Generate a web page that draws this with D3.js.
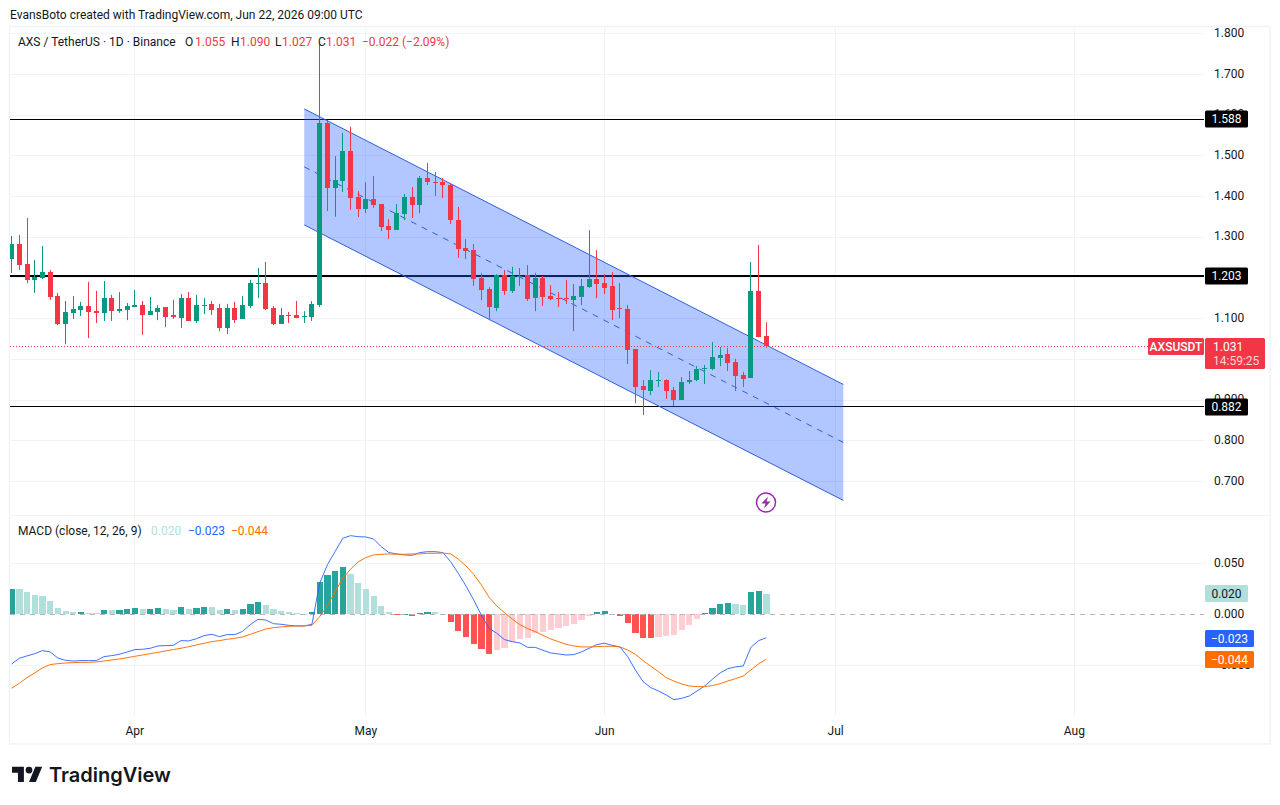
<!DOCTYPE html>
<html>
<head>
<meta charset="utf-8">
<title>AXS / TetherUS 1D</title>
<script src="https://cdn.jsdelivr.net/npm/d3@7"></script>
<style>
  html, body { margin: 0; padding: 0; background: #fff; }
  svg { display: block; }
  text { font-family: Roboto, sans-serif; font-size: 12px; fill: #131722; }
</style>
</head>
<body>
<svg id="chart" width="1280" height="805"></svg>
<script>
// Daily candles, AXS/USDT, one entry per session starting at the first date.
const firstDay = "2026-03-16";
const opens = [1.245,1.282,1.233,1.194,1.199,1.213,1.154,1.086,1.113,1.120,1.130,1.117,1.113,1.149,1.117,1.120,1.127,1.132,1.108,1.115,1.127,1.108,1.100,1.149,1.093,1.130,1.135,1.125,1.076,1.125,1.098,1.130,1.184,1.186,1.125,1.086,1.108,1.108,1.103,1.103,
  1.132,1.579,1.4205,1.437,1.511,1.398,1.368,1.393,1.380,1.326,1.316,1.356,1.398,1.378,1.444,1.434,1.434,1.427,1.341,1.272,
  1.267,1.198,1.171,1.125,1.206,1.167,1.201,1.206,1.149,1.198,1.154,1.149,1.149,1.144,1.152,1.176,1.196,1.186,1.179,1.125,1.122,1.024,0.933,0.921,0.946,0.948,0.923,0.899,0.943,0.948,0.975,0.975,1.002,1.012,0.992,0.960,0.953,1.167,1.055];
const highs = [1.302,1.304,1.346,1.243,1.277,1.218,1.162,1.142,1.154,1.140,1.189,1.167,1.191,1.157,1.164,1.137,1.169,1.142,1.152,1.132,1.127,1.145,1.159,1.164,1.157,1.149,1.142,1.135,1.135,1.140,1.154,1.194,1.223,1.238,1.130,1.125,1.115,1.142,1.117,1.142,
  1.773,1.587,1.498,1.555,1.570,1.412,1.434,1.449,1.380,1.343,1.380,1.405,1.422,1.449,1.481,1.459,1.444,1.432,1.373,1.294,
  1.282,1.211,1.176,1.208,1.218,1.226,1.223,1.230,1.211,1.203,1.181,1.164,1.194,1.184,1.196,1.316,1.267,1.208,1.213,1.186,1.132,1.024,0.948,0.972,0.968,0.950,0.931,0.955,0.970,0.982,0.985,1.041,1.029,1.027,1.000,0.968,1.238,1.280,1.090];
const lows = [1.211,1.218,1.186,1.162,1.196,1.145,1.083,1.036,1.098,1.105,1.051,1.088,1.093,1.093,1.113,1.095,1.127,1.059,1.108,1.095,1.078,1.098,1.076,1.093,1.088,1.110,1.108,1.068,1.061,1.088,1.098,1.125,1.149,1.120,1.083,1.086,1.088,1.100,1.088,1.093,
  1.127,1.363,1.349,1.410,1.366,1.348,1.358,1.371,1.314,1.294,1.316,1.341,1.346,1.358,1.427,1.400,1.395,1.331,1.248,1.245,
  1.179,1.144,1.095,1.117,1.157,1.162,1.179,1.142,1.117,1.130,1.144,1.127,1.135,1.068,1.132,1.174,1.149,1.159,1.095,1.100,0.987,0.891,0.862,0.911,0.931,0.901,0.884,0.899,0.938,0.945,0.938,0.972,0.982,0.970,0.921,0.931,0.953,1.053,1.027];
const closes = [1.282,1.230,1.194,1.201,1.213,1.152,1.086,1.115,1.122,1.130,1.115,1.113,1.149,1.117,1.122,1.130,1.132,1.108,1.117,1.125,1.103,1.103,1.149,1.093,1.132,1.132,1.120,1.076,1.125,1.095,1.132,1.186,1.186,1.122,1.086,1.108,1.105,1.100,1.105,1.135,
  1.579,1.4205,1.439,1.511,1.395,1.368,1.393,1.378,1.324,1.316,1.358,1.398,1.378,1.444,1.434,1.432,1.427,1.341,1.270,1.265,
  1.196,1.169,1.127,1.206,1.167,1.203,1.203,1.147,1.198,1.152,1.147,1.147,1.147,1.154,1.179,1.196,1.184,1.174,1.120,1.122,1.022,0.931,0.923,0.948,0.948,0.921,0.899,0.943,0.948,0.975,0.977,1.004,1.009,0.990,0.958,0.950,1.167,1.053,1.031];

// MACD (12, 26, 9) readings for the same sessions.
const macdHist = [0.0248,0.0247,0.0219,0.0190,0.0180,0.0131,0.0062,0.0033,0.0023,0.0024,0.0013,0.0012,0.0043,0.0042,0.0043,0.0052,0.0062,0.0052,0.0053,0.0062,0.0052,0.0042,0.0072,0.0052,0.0062,0.0072,0.0071,0.0042,0.0052,0.0042,0.0052,0.0101,0.0121,0.0092,0.0052,0.0033,0.0023,0.0013,0.0003,0.0023,
  0.0317,0.0386,0.0425,0.0464,0.0395,0.0307,0.0248,0.0180,0.0082,0.0023,-0.0007,0.0003,-0.0016,0.0013,0.0023,0.0022,0.0003,-0.0075,-0.0163,-0.0222,
  -0.0291,-0.0340,-0.0389,-0.0350,-0.0330,-0.0271,-0.0242,-0.0232,-0.0183,-0.0173,-0.0154,-0.0134,-0.0114,-0.0095,-0.0056,-0.0016,0.0023,0.0033,0.0003,-0.0016,-0.0085,-0.0183,-0.0232,-0.0233,-0.0222,-0.0212,-0.0203,-0.0154,-0.0105,-0.0046,0.0013,0.0062,0.0101,0.0111,0.0101,0.0092,0.0219,0.0229,0.020];
const macdLine = [-0.0487,-0.0431,-0.0408,-0.0386,-0.0356,-0.0369,-0.0428,-0.0451,-0.0458,-0.0454,-0.0454,-0.0454,-0.0415,-0.0405,-0.0392,-0.0369,-0.0346,-0.0343,-0.0333,-0.0310,-0.0307,-0.0304,-0.0258,-0.0261,-0.0239,-0.0209,-0.0196,-0.0219,-0.0199,-0.0199,-0.0167,-0.0101,-0.0049,-0.0056,-0.0092,-0.0098,-0.0108,-0.0114,-0.0114,-0.0098,
  0.0304,0.0484,0.0614,0.0745,0.0771,0.0761,0.0758,0.0739,0.0663,0.0605,0.0592,
  0.0582,0.0578,0.0605,0.0614,0.0614,0.0605,0.0516,0.0402,0.0278,0.0141,-0.0007,-0.0137,-0.0186,-0.0248,-0.0268,-0.0281,-0.0324,-0.0324,-0.0353,-0.0379,-0.0389,-0.0399,-0.0395,-0.0369,-0.0333,-0.0297,-0.0284,-0.0304,-0.0320,-0.0415,-0.0546,-0.0660,-0.0719,-0.0752,-0.0791,-0.0837,-0.0824,-0.0801,-0.0752,-0.0703,-0.0637,-0.0575,-0.0533,-0.0516,-0.0507,-0.0324,-0.0258,-0.023];
const signalLine = [-0.0725,-0.0676,-0.0621,-0.0575,-0.0526,-0.0493,-0.0484,-0.0477,-0.0474,-0.0471,-0.0471,-0.0467,-0.0458,-0.0448,-0.0438,-0.0425,-0.0412,-0.0399,-0.0386,-0.0373,-0.0359,-0.0346,-0.0333,-0.0317,-0.0301,-0.0284,-0.0268,-0.0258,-0.0245,-0.0235,-0.0222,-0.0196,-0.0170,-0.0144,-0.0131,-0.0124,-0.0118,-0.0114,-0.0114,-0.0108,
  -0.0023,0.0082,0.0222,0.0353,0.0441,0.0513,0.0556,0.0582,0.0588,0.0592,0.0588,
  0.0588,0.0592,0.0592,0.0598,0.0598,0.0601,0.0592,0.0542,0.0474,0.0392,0.0288,0.0167,0.0082,0.0016,-0.0046,-0.0101,-0.0141,-0.0170,-0.0206,-0.0242,-0.0268,-0.0294,-0.0310,-0.0320,-0.0320,-0.0317,-0.0314,-0.0314,-0.0320,-0.0350,-0.0392,-0.0454,-0.0510,-0.0562,-0.0621,-0.0654,-0.0683,-0.0703,-0.0709,-0.0709,-0.0699,-0.0680,-0.0654,-0.0631,-0.0605,-0.0546,-0.0484,-0.044];

// Drawn levels and the parallel channel.
const levels = [1.588, 1.203, 0.882];
const levelWeights = [1, 2, 1];
const lastPrice = 1.031;
const channelDates = ["2026-04-23", "2026-07-02"];
const channelUpper = [1.614, 0.937];
const channelLower = [1.329, 0.652];

// Axis marks. 1.000 and 1.200 keep their grid lines, their labels sit under badges.
const priceGrid = [0.7,0.8,0.9,1.0,1.1,1.2,1.3,1.4,1.5,1.6,1.7,1.8];
const priceTicks = [0.7,0.8,0.9,1.1,1.3,1.4,1.5,1.6,1.7,1.8];
const macdTicks = [-0.05, 0, 0.05];
const monthTicks = ["2026-04-01","2026-05-01","2026-06-01","2026-07-01","2026-08-01"];

const GREEN = "#089981", RED = "#f23645", GRID = "#f0f3fa", INK = "#131722";
const left = 10, right = 1204, outerRight = 1270;
const mainTop = 27, mainBottom = 515, macdBottom = 716, outerBottom = 744;

const parse = d3.utcParse("%Y-%m-%d");
const days = opens.map((_, i) => d3.utcDay.offset(parse(firstDay), i));

const x = d3.scaleUtc().domain([days[0], days[days.length - 1]]).range([11.6, 766.3]);
const y = d3.scaleLinear().domain([0, 1]).range([358.8 + 407, 358.8]);
const yM = d3.scaleLinear().domain([-0.05, 0.05]).range([665.3, 563.3]);

const svg = d3.select("#chart");
const defs = svg.append("defs");
defs.append("clipPath").attr("id", "mainClip").append("rect")
  .attr("x", left).attr("y", mainTop).attr("width", right - left).attr("height", mainBottom - mainTop);
defs.append("clipPath").attr("id", "macdClip").append("rect")
  .attr("x", left).attr("y", mainBottom + 1).attr("width", right - left).attr("height", macdBottom - mainBottom - 1);

// Frame around panes and axes.
const frame = svg.append("g").attr("stroke", GRID).attr("fill", "none");
frame.append("rect").attr("x", 9.5).attr("y", 26.5).attr("width", outerRight - 9.5).attr("height", outerBottom - 26.5).attr("stroke-width", 1.5);
frame.append("line").attr("x1", left).attr("x2", outerRight).attr("y1", mainBottom + .5).attr("y2", mainBottom + .5);

// Grid lines.
const grid = svg.append("g").attr("stroke", GRID).attr("stroke-width", 1);
grid.selectAll("line.v").data(monthTicks).join("line").attr("class", "v")
  .attr("x1", d => Math.floor(x(parse(d))) + .5).attr("x2", d => Math.floor(x(parse(d))) + .5)
  .attr("y1", mainTop).attr("y2", macdBottom);
grid.selectAll("line.h").data(priceGrid).join("line").attr("class", "h")
  .attr("x1", left).attr("x2", right)
  .attr("y1", d => Math.round(y(d)) + .5).attr("y2", d => Math.round(y(d)) + .5);
grid.selectAll("line.m").data(macdTicks.filter(d => d !== 0)).join("line").attr("class", "m")
  .attr("x1", left).attr("x2", right)
  .attr("y1", d => Math.round(yM(d)) + .5).attr("y2", d => Math.round(yM(d)) + .5);

// Main pane: levels first, so the translucent channel tints them.
const main = svg.append("g").attr("clip-path", "url(#mainClip)");
const levelY = (d, i) => levelWeights[i] % 2 ? Math.floor(y(d)) + .5 : Math.round(y(d));
main.selectAll("line.level").data(levels).join("line").attr("class", "level")
  .attr("x1", left).attr("x2", right)
  .attr("y1", levelY).attr("y2", levelY)
  .attr("stroke", "#000").attr("stroke-width", (d, i) => levelWeights[i]);

const chDates = channelDates.map(parse);
const chPoly = [
  [x(chDates[0]), y(channelUpper[0])], [x(chDates[1]), y(channelUpper[1])],
  [x(chDates[1]), y(channelLower[1])], [x(chDates[0]), y(channelLower[0])]
];
main.append("polygon").attr("points", chPoly.map(p => p.join(",")).join(" "))
  .attr("fill", "#2962ff").attr("fill-opacity", 0.36);
const chLine = (a, b) => main.append("line")
  .attr("x1", x(chDates[0])).attr("x2", x(chDates[1])).attr("y1", y(a)).attr("y2", y(b))
  .attr("stroke", "#2f5fe0").attr("stroke-width", 1);
chLine(channelUpper[0], channelUpper[1]);
chLine(channelLower[0], channelLower[1]);
chLine((channelUpper[0] + channelLower[0]) / 2, (channelUpper[1] + channelLower[1]) / 2)
  .attr("stroke-dasharray", "6 6");

// Last-price marker.
main.append("line").attr("x1", left).attr("x2", 1148)
  .attr("y1", Math.floor(y(lastPrice)) + .5).attr("y2", Math.floor(y(lastPrice)) + .5)
  .attr("stroke", RED).attr("stroke-dasharray", "1 2");

// Candles.
const candles = main.append("g").selectAll("g").data(days).join("g")
  .attr("fill", (d, i) => closes[i] >= opens[i] ? GREEN : RED);
candles.append("rect")
  .attr("x", d => Math.floor(x(d)))
  .attr("width", 1)
  .attr("y", (d, i) => y(highs[i]))
  .attr("height", (d, i) => y(lows[i]) - y(highs[i]));
candles.append("rect")
  .attr("x", d => Math.floor(x(d)) - 2)
  .attr("width", 5)
  .attr("y", (d, i) => Math.round(y(Math.max(opens[i], closes[i]))))
  .attr("height", (d, i) => Math.max(1, Math.round(Math.abs(y(opens[i]) - y(closes[i])))));

// Lightning mark below the channel.
const spark = svg.append("g").attr("transform", "translate(766,502.5)");
spark.append("circle").attr("r", 9.5).attr("fill", "#fff").attr("stroke", "#9c27b0").attr("stroke-width", 1.5);
spark.append("path").attr("d", "M2 -6 L-4.5 1 L-0.5 1 L-2 6 L4.5 -1 L0.5 -1 Z").attr("fill", "#9c27b0");

// MACD pane.
const macd = svg.append("g").attr("clip-path", "url(#macdClip)");
macd.selectAll("rect.h").data(macdHist).join("rect").attr("class", "h")
  .attr("x", (d, i) => Math.round(x(days[i]) - 3))
  .attr("width", (d, i) => Math.round(x(days[i]) + 3.2) - Math.round(x(days[i]) - 3))
  .attr("y", d => Math.round(Math.min(yM(d), yM(0))))
  .attr("height", d => Math.max(1, Math.round(Math.abs(yM(d) - yM(0)))))
  .attr("fill", (d, i) => {
    const prev = i ? macdHist[i - 1] : 0;
    if (d >= 0) return d > prev ? "#26a69a" : "#b2dfdb";
    return d < prev ? "#ff5252" : "#ffcdd2";
  });
macd.append("line").attr("x1", left).attr("x2", right)
  .attr("y1", Math.round(yM(0)) + .5).attr("y2", Math.round(yM(0)) + .5)
  .attr("stroke", "#b2b5be").attr("stroke-dasharray", "5 5");
const lineGen = d3.line().x((d, i) => x(days[i])).y(d => yM(d));
macd.append("path").attr("d", lineGen(macdLine)).attr("fill", "none").attr("stroke", "#2962ff").attr("stroke-width", 1).attr("opacity", .9);
macd.append("path").attr("d", lineGen(signalLine)).attr("fill", "none").attr("stroke", "#ff6d00").attr("stroke-width", 1).attr("opacity", .95);

// Axes.
const clean = g => { g.select(".domain").remove(); g.selectAll(".tick line").remove();
  g.attr("font-family", null).attr("font-size", null); };
svg.append("g").attr("transform", "translate(1214,-0.7)")
  .call(d3.axisRight(y).tickValues(priceTicks).tickFormat(d3.format(".3f")).tickSize(0).tickPadding(0)).call(clean);
svg.append("g").attr("transform", "translate(1214,-0.7)")
  .call(d3.axisRight(yM).tickValues(macdTicks).tickFormat(d3.format(".3f")).tickSize(0).tickPadding(0)).call(clean);
svg.append("g").attr("transform", "translate(-0.5,726)")
  .call(d3.axisBottom(x).tickValues(monthTicks.map(parse)).tickFormat(d3.utcFormat("%b")).tickSize(0).tickPadding(0)).call(clean);

// Axis badges.
const badge = (bx, by, w, h, fill) => svg.append("rect").attr("x", bx).attr("y", by).attr("width", w).attr("height", h).attr("rx", 1.5).attr("fill", fill);
const label = (tx, ty, str, fill, anchor, weight) => svg.append("text").attr("x", tx).attr("y", ty)
  .attr("dy", "0.35em").attr("text-anchor", anchor || "start").style("fill", fill || INK).style("font-weight", weight || 400).text(str);
const fmt = d3.format(".3f");
levels.forEach(v => {
  const cy = Math.round(y(v));
  badge(1205, cy - 8.5, 43, 17, "#000");
  label(1226.5, cy, fmt(v), "#fff", "middle");
});
badge(1148, 338, 56, 17, RED);
label(1176, 346.5, "AXSUSDT", "#fff", "middle", 500);
badge(1205, 338, 60, 31, RED);
label(1213, 346.5, fmt(lastPrice), "#fff");
label(1213, 360.5, "14:59:25", "#fcd5d9");
const lastHist = macdHist[macdHist.length - 1], lastMacd = macdLine[macdLine.length - 1], lastSignal = signalLine[signalLine.length - 1];
badge(1205, 585, 43, 17, "#b2dfdb");
label(1226.5, 593.5, fmt(lastHist), INK, "middle");
badge(1205, 630, 49, 17, "#2962ff");
label(1229.5, 638.5, fmt(lastMacd), "#fff", "middle");
badge(1205, 651, 49, 17, "#ff6d00");
label(1229.5, 659.5, fmt(lastSignal), "#fff", "middle");

// Header, instrument legend and indicator legend.
label(10, 15, "EvansBoto created with TradingView.com, Jun 22, 2026 09:00 UTC");
label(18, 42, "AXS / TetherUS · 1D · Binance");
[["O", 185], ["H", 231], ["L", 275], ["C", 318]].forEach(d => label(d[1], 42, d[0]));
[["1.055", 195], ["1.090", 240], ["1.027", 282], ["1.031", 326], ["−0.022 (−2.09%)", 362]].forEach(d => label(d[1], 42, d[0], RED));
label(18, 531, "MACD (close, 12, 26, 9)");
label(151, 531, fmt(lastHist), "#b2dfdb");
label(188, 531, fmt(lastMacd), "#2962ff");
label(231, 531, fmt(lastSignal), "#ff6d00");

// Wordmark.
const logo = svg.append("g").attr("transform", "translate(12,763.3) scale(.85)").attr("fill", INK);
logo.append("path").attr("d", "M14 22H7V11H0V4h14v18zM28 22h-8l7.5-18h8L28 22z");
logo.append("circle").attr("cx", 20).attr("cy", 8).attr("r", 4);
svg.append("text").attr("x", 49).attr("y", 782).style("font-family", "Inter, sans-serif").style("font-size", "20px").style("font-weight", 600).text("TradingView");
</script>
</body>
</html>
